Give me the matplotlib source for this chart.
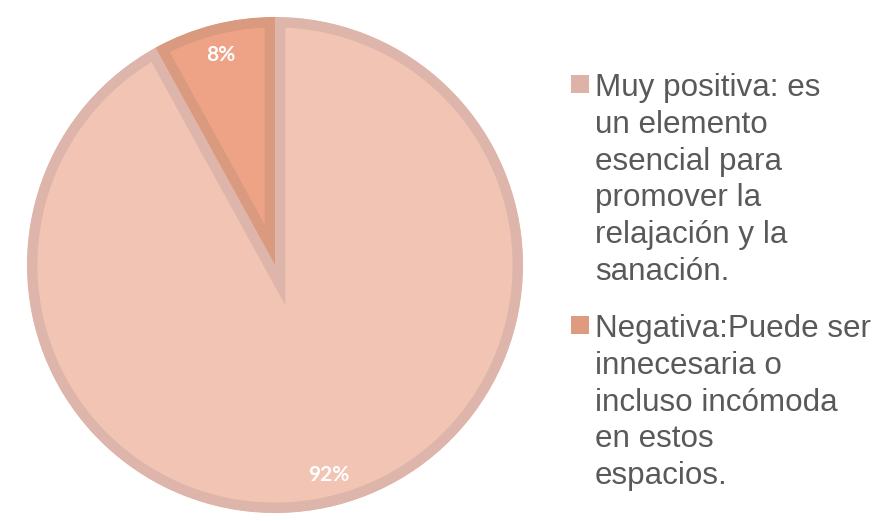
import matplotlib.pyplot as plt
from matplotlib.patches import Rectangle

# survey answers and their share of respondents
labels = [
    "Muy positiva: es\nun elemento\nesencial para\npromover la\nrelajación y la\nsanación.",
    "Negativa:Puede ser\ninnecesaria o\nincluso incómoda\nen estos\nespacios.",
]
shares = [92, 8]

fill_colors = ["#F2C4B4", "#EFA386"]
edge_colors = ["#DDB5AA", "#D99A80"]
swatch_colors = ["#DDB3A8", "#DE9B80"]

W, H = 884, 521
fig = plt.figure(figsize=(W / 100, H / 100), dpi=100)

# pie axes: 500 px square, circle radius 248 px
ax = fig.add_axes([25 / W, 6 / H, 500 / W, 500 / H])

wedges, _, autotexts = ax.pie(
    shares,
    colors=fill_colors,
    startangle=90,
    counterclock=False,
    autopct="%1.0f%%",
    pctdistance=0.875,
    radius=1,
    wedgeprops=dict(linewidth=15, joinstyle="miter"),
    textprops=dict(color="white", fontsize=15, fontweight="bold", family="Lato"),
)
lim = 250 / 248
ax.set_xlim(-lim, lim)
ax.set_ylim(-lim, lim)
ax.set_aspect("equal")
ax.axis("off")

# border sits inside each slice: double width stroke clipped to the slice
for w, ec in zip(wedges, edge_colors):
    w.set_edgecolor(ec)
    w.set_clip_path(w)
    w.set_clip_on(True)

# legend drawn line by line
text_x = 595 / W
line_step = 36.8
first_baselines = [96, 337]
for lab, col, base in zip(labels, swatch_colors, first_baselines):
    fig.add_artist(Rectangle((571 / W, (H - base + 3) / H), 18 / W, 18 / H,
                             transform=fig.transFigure, facecolor=col,
                             edgecolor="none"))
    for i, line in enumerate(lab.split("\n")):
        y = H - (base + i * line_step)
        fig.text(text_x, y / H, line, ha="left", va="baseline",
                 fontsize=22.6, color="#595959", family="Liberation Sans")

fig.savefig("out.png", dpi=100, facecolor="white")
